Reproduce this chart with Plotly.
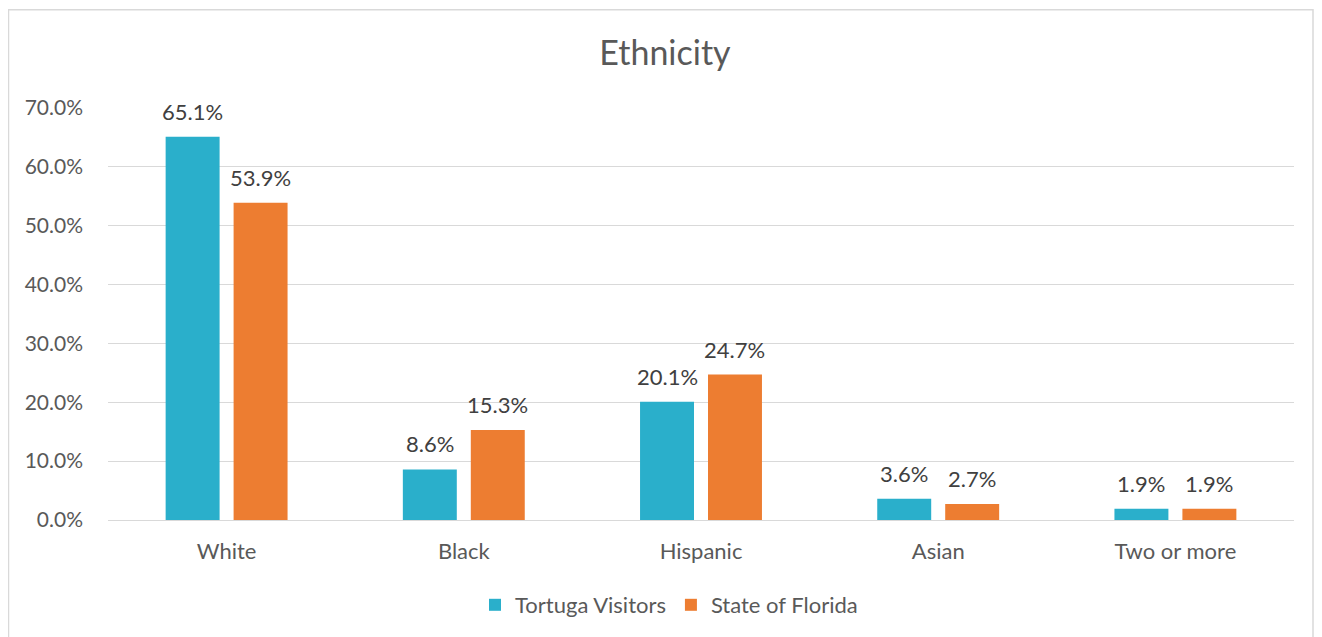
import plotly.graph_objects as go

categories = ["White", "Black", "Hispanic", "Asian", "Two or more"]
tortuga_visitors = [65.1, 8.6, 20.1, 3.6, 1.9]
state_of_florida = [53.9, 15.3, 24.7, 2.7, 1.9]
series_names = ["Tortuga Visitors", "State of Florida"]
y_ticks = [0, 10, 20, 30, 40, 50, 60, 70]

TEAL = "#2aafcb"
ORANGE = "#ed7d31"
FONT = "Lato, 'Open Sans', sans-serif"

# page has an 8px body margin, so figure coords = screen coords - 8
OFF = 8
W, H = 1322 - OFF, 637 - OFF
L, R, T, B = 108 - OFF, 28, 108 - OFF, 116
pw, ph = W - L - R, H - T - B
BARGAP = 0.427


def px_x(x):
    return (x - OFF - L) / pw


def px_y(y):
    return (H - B - (y - OFF)) / ph


# half the width of one bar slot in pixels (for placing value labels above bars)
slot_half = pw / len(categories) * (1 - BARGAP) / 4

fig = go.Figure()
annotations = []
for i, (name, vals, col) in enumerate([(series_names[0], tortuga_visitors, TEAL),
                                       (series_names[1], state_of_florida, ORANGE)]):
    fig.add_trace(go.Bar(
        x=categories, y=vals, name=name,
        marker=dict(color=col, line=dict(width=0)),
    ))
    shift = -slot_half if i == 0 else slot_half
    for c, v in zip(categories, vals):
        annotations.append(dict(
            x=c, y=v, text=f"{v:.1f}%", showarrow=False, xshift=shift, yshift=10,
            yanchor="bottom", font=dict(size=22, color="#404040", family=FONT),
        ))

fig.update_layout(
    width=W, height=H,
    margin=dict(l=L, r=R, t=T, b=B),
    paper_bgcolor="white", plot_bgcolor="white",
    barmode="group", bargap=BARGAP, bargroupgap=0.206,
    font=dict(family=FONT, color="#595959", size=22),
    title=dict(text="Ethnicity", x=0.5, xanchor="center", y=1 - (53 - OFF) / H, yanchor="middle",
               font=dict(size=34, color="#595959", family=FONT)),
    legend=dict(orientation="h", x=px_x(669), xanchor="center", y=px_y(605), yanchor="middle",
                font=dict(size=22, color="#595959"), itemwidth=30, traceorder="normal"),
    xaxis=dict(showgrid=False, showline=False, ticks="", tickfont=dict(size=22),
               ticklabelstandoff=16),
    yaxis=dict(range=[0, 70], tickvals=y_ticks, ticktext=[f"{v:.1f}%" for v in y_ticks],
               showgrid=True, gridcolor="#d9d9d9", gridwidth=1, zeroline=True,
               zerolinecolor="#d9d9d9", zerolinewidth=1, showline=False, ticks="",
               ticklabelstandoff=24, tickfont=dict(size=21)),
    annotations=annotations,
    shapes=[dict(type="rect", xref="paper", yref="paper",
                 x0=px_x(8.5), x1=px_x(1313), y0=px_y(700), y1=px_y(9.5),
                 line=dict(color="#d9d9d9", width=1.5), fillcolor="rgba(0,0,0,0)", layer="below")],
)

fig.write_html("out.html")
